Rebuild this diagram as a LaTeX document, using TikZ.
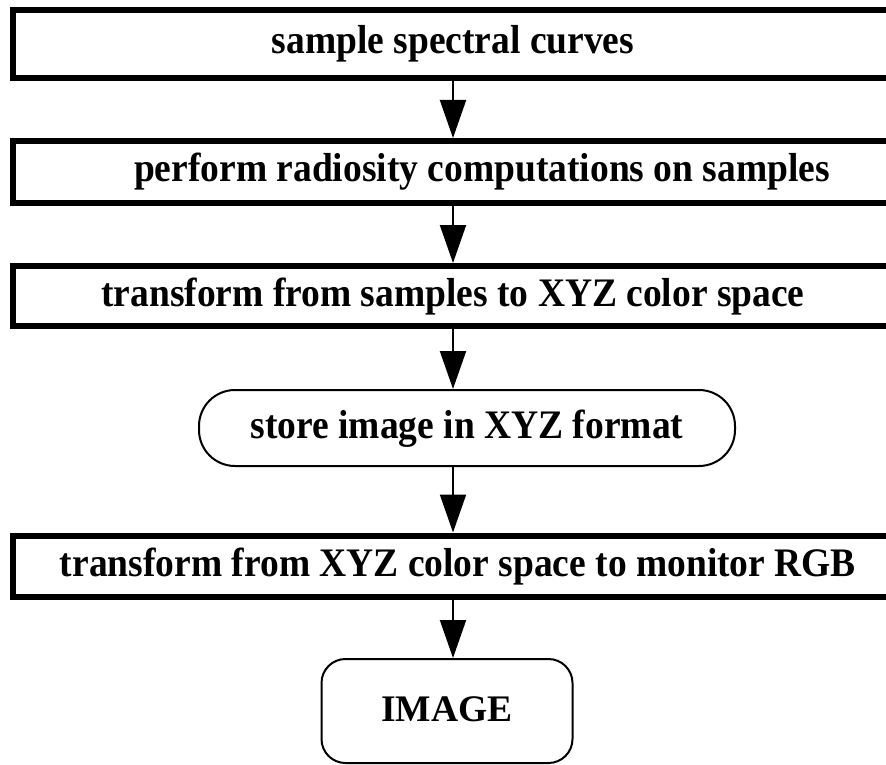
\documentclass[tikz,border=0pt]{standalone}
\usepackage{fontspec}
\usepackage{graphicx}
\setmainfont{Liberation Serif}
\usetikzlibrary{arrows.meta}
\newcommand\talltxt[1]{\scalebox{1}[1.08]{#1}}
\tikzset{
  flowtext/.style={font=\fontsize{37.5}{40}\selectfont\bfseries, text height=26pt, text depth=6pt, inner sep=0pt},
  stepbox/.style={flowtext, draw, line width=6pt, minimum width=880pt, rectangle},
  roundbox/.style={flowtext, draw, line width=2pt, rounded corners=#1, rectangle},
  arr/.style={line width=2pt, -{Triangle[length=38pt,width=26pt]}}
}
\begin{document}
\begin{tikzpicture}[x=1pt,y=-1pt]
\clip (0,0) rectangle (886,765);
\fill[white] (0,0) rectangle (886,765);
\node[stepbox, minimum height=68pt] (b1) at (453,44) {\talltxt{sample spectral curves}};
\node[stepbox, minimum height=62pt] (b2) at (453,172) {\hspace*{58pt}\talltxt{perform radiosity computations on samples}};
\node[stepbox, minimum height=60pt] (b3) at (453,296) {\talltxt{transform from samples to XYZ color space}};
\node[roundbox=36pt, minimum width=536pt, minimum height=76pt] (st) at (467,428) {\talltxt{store image in XYZ format}};
\node[stepbox, minimum height=61pt] (b5) at (453,566) {\hspace*{10pt}\talltxt{transform from XYZ color space to monitor RGB}};
\node[roundbox=24pt, minimum width=251pt, minimum height=104pt] (img) at (447,711) {IMAGE};
\draw[arr] (b1.south) -- (b2.north);
\draw[arr] (b2.south) -- (b3.north);
\draw[arr] (b3.south) -- (b3.south |- st.north);
\draw[arr] (st.south -| b5.north) -- (b5.north);
\draw[arr] (b5.south) -- (b5.south |- img.north);
\end{tikzpicture}
\end{document}
